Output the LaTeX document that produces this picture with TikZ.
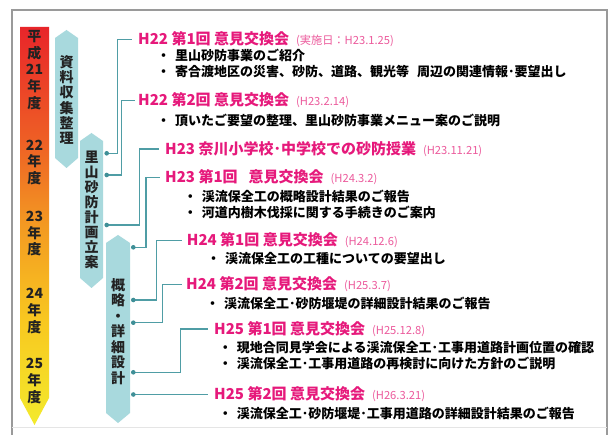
\documentclass[tikz,border=0pt]{standalone}
\usepackage{fontspec}
\setmainfont{Noto Sans CJK JP}
\definecolor{hpink}{HTML}{E6197B}
\definecolor{dpink}{HTML}{EC5A9C}
\definecolor{barteal}{HTML}{A8D9DD}
\definecolor{lineteal}{HTML}{4F9DA5}
\definecolor{dotteal}{HTML}{3F8F97}
\definecolor{frameg}{HTML}{9A9A9A}
\definecolor{txtdark}{HTML}{222222}
\definecolor{yba}{HTML}{E8252A}
\definecolor{ybb}{HTML}{EE5E25}
\definecolor{ybc}{HTML}{F39A22}
\definecolor{ybd}{HTML}{F8C820}
\definecolor{ybe}{HTML}{F3EA2C}
\pgfdeclareverticalshading{yearbar}{100bp}{color(0bp)=(ybe); color(25bp)=(ybe); color(38bp)=(ybd); color(50bp)=(ybc); color(61bp)=(ybb); color(75bp)=(yba); color(100bp)=(yba)}
\newcommand\mydate[1]{\hspace{7pt}{\mdseries\fontsize{11.2}{13}\selectfont\color{dpink}#1}}
\newcommand\mybul{\makebox[18pt][l]{・}}
\begin{document}
\begin{tikzpicture}[x=1pt,y=-1pt,
  hdr/.style={anchor=west,inner sep=0pt,text=hpink,font=\fontsize{15}{18}\selectfont\bfseries},
  blt/.style={anchor=west,inner sep=0pt,text=black,font=\fontsize{13}{15}\selectfont\bfseries},
  yeartxt/.style={inner sep=0pt,align=center,text=txtdark,font=\fontsize{14}{16.6}\selectfont\bfseries},
  hextxt/.style={inner sep=0pt,align=center,text=txtdark,font=\fontsize{14}{15.3}\selectfont\bfseries},
  hexbar/.style={fill=barteal},
  conn/.style={draw=lineteal,line width=1.2pt},
  dotmark/.style={fill=dotteal}]
\useasboundingbox (0,0) rectangle (613,435);
\fill[white] (0,0) rectangle (613,435);
% frame
\draw[frameg,line width=1.2pt] (12,435) -- (12,10) -- (607,10) -- (607,435);
\draw[gray!20,line width=0.8pt] (12,427) -- (607,427);
% year bar
\shade[shading=yearbar] (20,27) -- (49,27) -- (49,398) -- (34.5,425) -- (20,398) -- cycle;
\node[yeartxt] (y21) at (34.5,70) {平\\成\\21\\年\\度};
\node[yeartxt] (y22) at (34.5,162.3) {22\\年\\度};
\node[yeartxt] (y23) at (34.5,233.8) {23\\年\\度};
\node[yeartxt] (y24) at (34.5,311) {24\\年\\度};
\node[yeartxt] (y25) at (34.5,381) {25\\年\\度};
% hex bars
\fill[hexbar] (55,38) -- (66.5,30) -- (78,38) -- (78,158) -- (66.5,168) -- (55,158) -- cycle;
\node[hextxt] (s1) at (66.5,100) {資\\料\\収\\集\\整\\理};
\fill[hexbar] (80,141) -- (91.5,133) -- (103,141) -- (103,278) -- (91.5,288) -- (80,278) -- cycle;
\node[hextxt,font=\fontsize{14}{15.1}\selectfont\bfseries] (s2) at (91.5,210) {里\\山\\砂\\防\\計\\画\\立\\案};
\fill[hexbar] (106,243) -- (118,235) -- (130,243) -- (130,413) -- (118,423) -- (106,413) -- cycle;
\node[hextxt,font=\fontsize{14}{15.5}\selectfont\bfseries] (s3) at (118,331.5) {概\\略\\・\\詳\\細\\設\\計};
% headers
\node[hdr] (h1) at (138,39.5) {H22 第1回 意見交換会\mydate{(実施日：H23.1.25)}};
\node[hdr] (h2) at (138,100.5) {H22 第2回 意見交換会\mydate{(H23.2.14)}};
\node[hdr] (h3) at (165,149) {H23 奈川小学校･中学校での砂防授業\mydate{(H23.11.21)}};
\node[hdr] (h4) at (165,177.5) {H23 第1回\hspace{11pt}意見交換会\mydate{(H24.3.2)}};
\node[hdr] (h5) at (186.7,240.5) {H24 第1回 意見交換会\mydate{(H24.12.6)}};
\node[hdr] (h6) at (186,284.5) {H24 第2回 意見交換会\mydate{(H25.3.7)}};
\node[hdr] (h7) at (214,329) {H25 第1回 意見交換会\mydate{(H25.12.8)}};
\node[hdr] (h8) at (214,394.5) {H25 第2回 意見交換会\mydate{(H26.3.21)}};
% bullets
\node[blt] (b1a) at (157,55) {\mybul 里山砂防事業のご紹介};
\node[blt] (b1b) at (157,72) {\mybul 寄合渡地区の災害、砂防、道路、観光等\hspace{8pt}周辺の関連情報･要望出し};
\node[blt] (b2a) at (157,120) {\mybul 頂いたご要望の整理、里山砂防事業メニュー案のご説明};
\node[blt] (b4a) at (183.7,196.7) {\mybul 渓流保全工の概略設計結果のご報告};
\node[blt] (b4b) at (183.7,212.7) {\mybul 河道内樹木伐採に関する手続きのご案内};
\node[blt] (b5a) at (207,258.3) {\mybul 渓流保全工の工種についての要望出し};
\node[blt] (b6a) at (206,303.3) {\mybul 渓流保全工･砂防堰堤の詳細設計結果のご報告};
\node[blt] (b7a) at (218.7,347.7) {\mybul 現地合同見学会による渓流保全工･工事用道路計画位置の確認};
\node[blt] (b7b) at (218.7,363.3) {\mybul 渓流保全工･工事用道路の再検討に向けた方針のご説明};
\node[blt] (b8a) at (218.7,413.3) {\mybul 渓流保全工･砂防堰堤･工事用道路の詳細設計結果のご報告};
% connector start points
\coordinate (d1) at (106.7,153.3);
\coordinate (d2) at (106.7,175);
\coordinate (d3) at (106.7,225);
\coordinate (d4) at (133.3,247.3);
\coordinate (d5) at (133.3,300);
\coordinate (d6) at (133.3,322.7);
\coordinate (d7) at (133.3,372.3);
\coordinate (d8) at (133.3,394.5);
\draw[conn] (d1) -- ++(10.6,0) |- ([xshift=-6pt]h1.west);
\draw[conn] (d2) -- ++(15,0) |- ([xshift=-3pt]h2.west);
\draw[conn] (d3) -- ++(32.6,0) |- ([xshift=-6.5pt]h3.west);
\draw[conn] (d4) -- ++(12.7,0) |- ([xshift=-5pt]h4.west);
\draw[conn] (d5) -- ++(23.4,0) |- ([xshift=-5pt]h5.west);
\draw[conn] (d6) -- ++(29.4,0) |- ([xshift=-4.5pt]h6.west);
\draw[conn] (d7) -- ++(47.4,0) |- ([xshift=-6pt]h7.west);
\draw[conn] (d8) -- ([xshift=-6pt]h8.west);
\foreach \d in {d1,d2,d3,d4,d5,d6,d7,d8} \fill[dotmark] (\d) circle (2.3pt);
\end{tikzpicture}
\end{document}
